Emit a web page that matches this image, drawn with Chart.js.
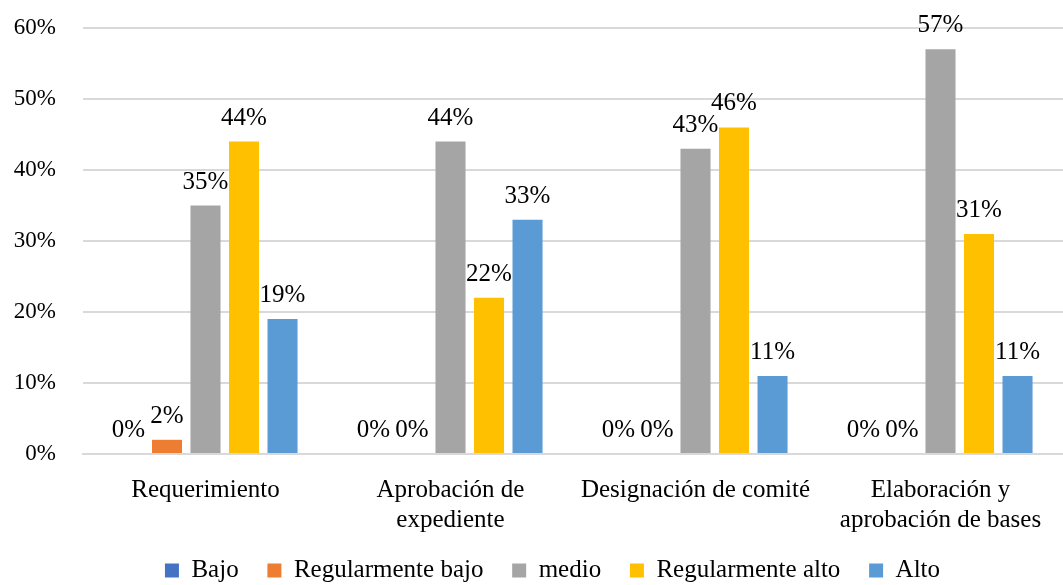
<!DOCTYPE html>
<html>
<head>
<meta charset="utf-8">
<script src="https://cdn.jsdelivr.net/npm/chart.js@4/dist/chart.umd.min.js"></script>
<style>
  html, body { margin: 0; padding: 0; background: #fff; }
  #wrap { width: 1063px; height: 585px; }
</style>
</head>
<body>
<div id="wrap"><canvas id="chart"></canvas></div>
<script>
// categories and series
var categories = [
  "Requerimiento",
  ["Aprobación de", "expediente"],
  "Designación de comité",
  ["Elaboración y", "aprobación de bases"]
];
var seriesNames = ["Bajo", "Regularmente bajo", "medio", "Regularmente alto", "Alto"];
var bajo = [0, 0, 0, 0];
var regBajo = [2, 0, 0, 0];
var medio = [35, 44, 43, 57];
var regAlto = [44, 22, 46, 31];
var alto = [19, 33, 11, 11];
var yTicks = [0, 10, 20, 30, 40, 50, 60];

var colors = ["#4472C4", "#ED7D31", "#A5A5A5", "#FFC000", "#5B9BD5"];
var fontFam = "'Liberation Serif', 'Times New Roman', serif";

// draws the value above each bar
var valueLabels = {
  id: "valueLabels",
  afterDatasetsDraw: function(chart) {
    var ctx = chart.ctx;
    ctx.save();
    ctx.font = "25px " + fontFam;
    ctx.fillStyle = "#000";
    ctx.textAlign = "center";
    ctx.textBaseline = "alphabetic";
    chart.data.datasets.forEach(function(ds, i) {
      var meta = chart.getDatasetMeta(i);
      meta.data.forEach(function(bar, j) {
        ctx.fillText(ds.data[j] + "%", bar.x, bar.y - 17);
      });
    });
    ctx.restore();
  }
};

// legend sits a bit right of the canvas centre in the original
var legendShift = {
  id: "legendShift",
  afterLayout: function(chart) {
    chart.legend.left += 16;
    chart.legend.right += 16;
  }
};

var allSeries = [bajo, regBajo, medio, regAlto, alto];
var datasets = allSeries.map(function(vals, i) {
  return {
    label: seriesNames[i],
    data: vals,
    backgroundColor: colors[i],
    borderWidth: 0,
    categoryPercentage: 0.786,
    barPercentage: 0.78
  };
});

new Chart(document.getElementById("chart"), {
  type: "bar",
  data: { labels: categories, datasets: datasets },
  plugins: [valueLabels, legendShift],
  options: {
    responsive: true,
    maintainAspectRatio: false,
    animation: false,
    layout: { padding: { left: 10, right: 0, top: 28, bottom: -8 } },
    plugins: {
      legend: {
        position: "bottom",
        labels: {
          boxWidth: 14,
          boxHeight: 14,
          padding: 10,
          color: "#000",
          font: { family: fontFam, size: 25 },
          generateLabels: function(chart) {
            var items = Chart.defaults.plugins.legend.labels.generateLabels(chart);
            items.forEach(function(it, i) {
              if (i < items.length - 1) it.text += "   ";
            });
            return items;
          }
        }
      },
      tooltip: { enabled: false }
    },
    scales: {
      x: {
        grid: { display: false },
        border: { color: "#D9D9D9", width: 2 },
        ticks: {
          color: "#000",
          font: { family: fontFam, size: 25, lineHeight: 1.2 },
          maxRotation: 0,
          autoSkip: false,
          padding: 13
        }
      },
      y: {
        min: 0,
        max: 60,
        afterBuildTicks: function(axis) {
          axis.ticks = yTicks.map(function(v) { return { value: v }; });
        },
        afterFit: function(axis) {
          axis.width = 73;
          axis.paddingTop = 0;
          axis.paddingBottom = 0;
        },
        grid: { color: "#D9D9D9", lineWidth: 2, drawTicks: false },
        border: { display: false },
        ticks: {
          color: "#000",
          padding: 27,
          font: { family: fontFam, size: 23 },
          callback: function(v) { return v + "%"; }
        }
      }
    }
  }
});
</script>
</body>
</html>
